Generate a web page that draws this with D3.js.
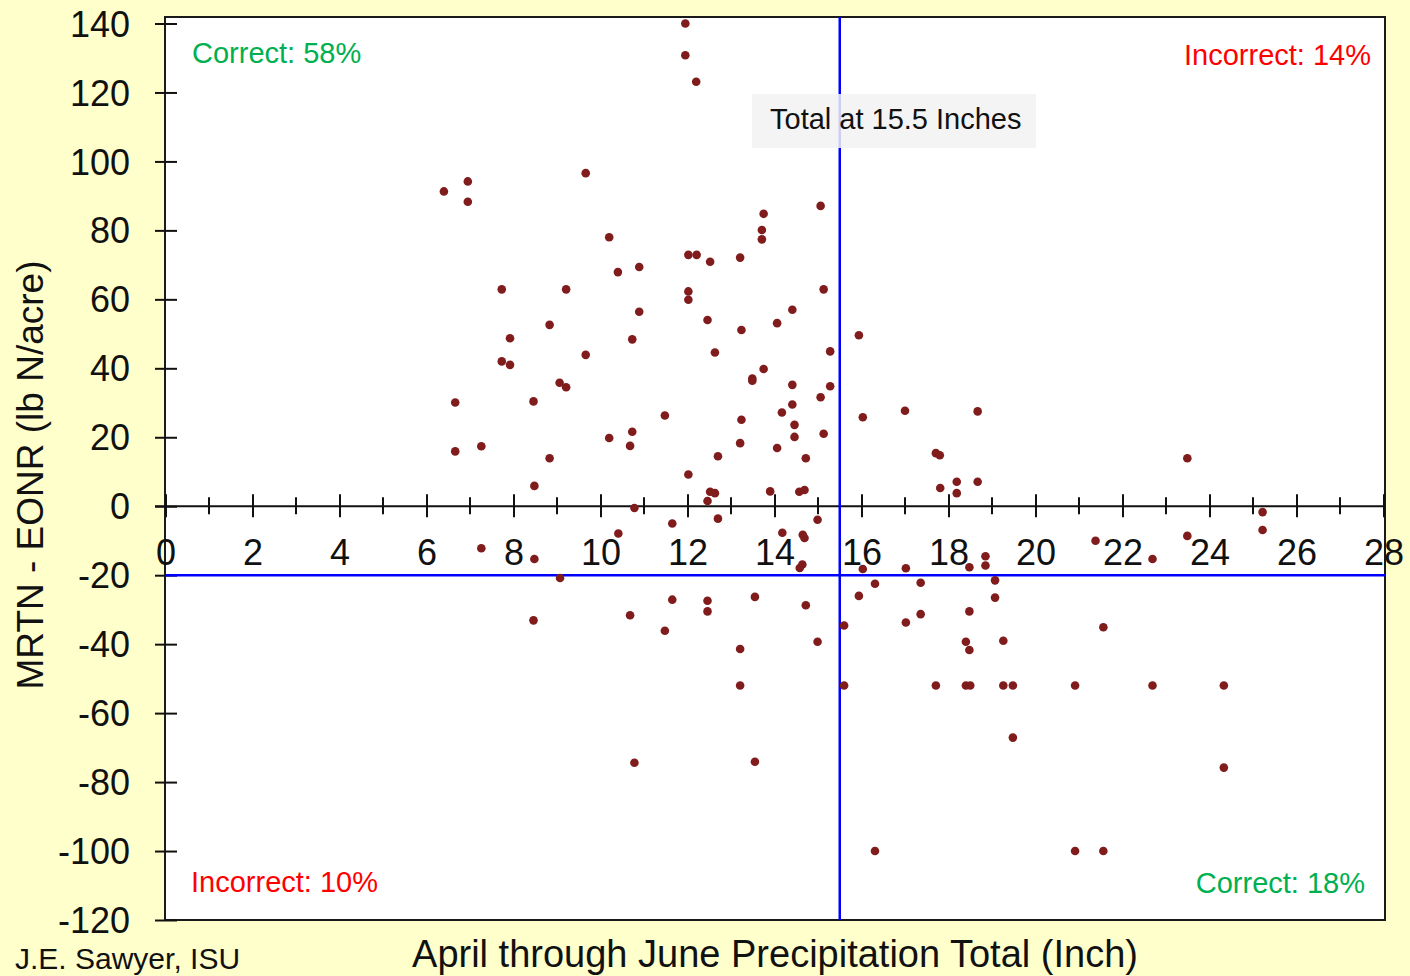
<!doctype html>
<html lang="en">
<head>
<meta charset="UTF-8">
<title>MRTN - EONR vs precipitation</title>
<style>
    html, body { margin: 0; padding: 0; background: #ffffcc; }
    svg { display: block; font-family: "Liberation Sans", Arial, sans-serif; }
</style>
</head>
<body>
<svg width="1410" height="976"></svg>

<script src="https://d3js.org/d3.v7.min.js"></script>
<script>
    // April-June precipitation (inch) for each site-year
    const precip = [
        6.40, 6.95, 6.95, 7.73, 9.21, 8.83, 7.92, 7.73, 7.92, 9.06,
        9.21, 6.66, 8.46, 6.66, 7.26, 8.83, 8.48, 9.66, 9.66, 11.95,
        11.95, 12.20, 10.20, 10.40, 10.89, 10.89, 10.73, 12.02, 12.21, 12.52,
        13.21, 12.02, 12.02, 12.46, 12.63, 13.24, 13.75, 13.71, 13.71, 15.06,
        15.13, 14.41, 14.06, 15.28, 15.94, 13.49, 13.49, 13.75, 14.41, 15.28,
        15.06, 14.41, 14.17, 14.46, 14.46, 15.13, 11.48, 13.24, 13.21, 14.06,
        10.20, 10.73, 10.68, 12.70, 14.72, 16.03, 17.00, 18.67, 17.71, 17.80,
        17.81, 18.19, 18.19, 18.67, 12.02, 12.52, 12.63, 12.46, 13.90, 14.57,
        14.69, 23.49,
        10.78, 25.22, 25.22, 7.26, 8.48, 9.07, 8.46, 12.70, 14.99, 10.41,
        11.65, 14.18, 14.65, 14.69, 14.58, 14.64, 16.03, 17.02, 18.48, 18.85,
        18.85, 19.07, 19.07, 16.31, 17.36, 15.94, 11.65, 12.46, 12.46, 13.55,
        14.72, 10.68, 11.48, 15.60, 17.36, 17.02, 18.48, 14.99, 13.21, 18.40,
        18.48, 13.21, 15.60, 17.71, 18.40, 18.50, 10.78, 13.55, 16.31, 19.26,
        19.26, 19.48, 19.48, 21.56, 20.91, 22.69, 24.33, 24.33, 20.91, 21.56,
        21.38, 22.69, 23.49
    ];
    // MRTN minus EONR (lb N/acre), same order as precip
    const diffN = [
        91.3, 94.2, 88.3, 62.9, 62.9, 52.6, 48.7, 42.0, 41.0, 35.8,
        34.5, 30.1, 30.4, 15.9, 17.4, 13.9, 5.9, 96.6, 43.9, 140.0,
        130.8, 123.1, 78.0, 67.9, 69.4, 56.4, 48.4, 72.9, 72.9, 70.9,
        72.1, 62.3, 59.9, 54.0, 44.6, 51.1, 84.8, 80.1, 77.4, 87.1,
        62.9, 57.0, 53.1, 44.9, 49.6, 37.0, 36.4, 39.8, 35.2, 34.8,
        31.6, 29.5, 27.2, 23.6, 20.1, 21.0, 26.3, 25.1, 18.3, 16.9,
        19.8, 21.6, 17.5, 14.5, 13.9, 25.8, 27.7, 27.5, 15.4, 14.8,
        5.3, 7.1, 3.8, 7.1, 9.2, 4.2, 3.8, 1.5, 4.3, 4.2,
        4.7, 13.9,
        -0.5, -1.7, -6.9, -12.2, -15.3, -20.8, -33.1, -3.6, -3.9, -7.9,
        -5.0, -7.7, -8.3, -9.2, -17.9, -16.9, -18.2, -18.0, -17.7, -14.5,
        -17.2, -21.5, -26.5, -22.5, -22.2, -26.0, -27.1, -27.4, -30.5, -26.3,
        -28.7, -31.6, -36.1, -34.6, -31.3, -33.7, -30.5, -39.3, -41.4, -39.3,
        -41.7, -52, -52, -52, -52, -52, -74.4, -74.1, -100, -39.0,
        -52, -52, -67.1, -35.1, -52, -52, -52, -75.8, -100, -100,
        -10.0, -15.3, -8.6
    ];

    const xTicks = d3.range(0, 29, 2);
    const xMinor = d3.range(1, 28, 2);
    const yTicks = d3.range(-120, 141, 20);

    const cutX = 15.5;   // precipitation threshold
    const cutY = -20;    // N difference threshold

    const quadrants = [
        { text: 'Correct: 58%', color: '#00b050', x: 192, y: 63, anchor: 'start' },
        { text: 'Incorrect: 14%', color: '#ff0000', x: 1371, y: 65, anchor: 'end' },
        { text: 'Incorrect: 10%', color: '#ff0000', x: 191, y: 892, anchor: 'start' },
        { text: 'Correct: 18%', color: '#00b050', x: 1365, y: 893, anchor: 'end' }
    ];

    const svg = d3.select('svg');
    const plotL = 165, plotR = 1385, plotT = 17, plotB = 920;

    const x = d3.scaleLinear().domain([0, 28]).range([165.5, 1383.5]);
    const y = d3.scaleLinear().domain([-120, 140]).range([920, 23.5]);

    svg.append('rect')
        .attr('width', 1410).attr('height', 976)
        .attr('fill', '#ffffcc');

    svg.append('rect')
        .attr('x', plotL).attr('y', plotT)
        .attr('width', plotR - plotL).attr('height', plotB - plotT)
        .attr('fill', '#ffffff')
        .attr('stroke', '#1a1a1a')
        .attr('stroke-width', 2);

    // y axis: ticks cross the frame line
    const yAxis = svg.append('g')
        .attr('transform', `translate(${plotL},0)`)
        .call(d3.axisLeft(y).tickValues(yTicks).tickSize(10).tickPadding(0).tickFormat(d3.format('d')));
    yAxis.select('.domain').remove();
    yAxis.selectAll('.tick line')
        .attr('x1', 12).attr('x2', -10)
        .attr('stroke', '#111').attr('stroke-width', 2);
    yAxis.selectAll('.tick text')
        .attr('x', -35)
        .attr('dy', '0.35em')
        .attr('font-size', 36)
        .attr('fill', '#111')
        .attr('text-anchor', 'end')
        .text(d => d < 0 ? '-' + Math.abs(d) : d);

    // x axis along y = 0
    const xAxis = svg.append('g')
        .attr('transform', `translate(0,${y(0)})`)
        .call(d3.axisBottom(x).tickValues(xTicks).tickSize(11).tickFormat(d3.format('d')));
    xAxis.select('.domain').remove();
    xAxis.selectAll('.tick line')
        .attr('y1', -12).attr('y2', 11)
        .attr('stroke', '#111').attr('stroke-width', 2);
    xAxis.selectAll('.tick text')
        .attr('y', 59)
        .attr('dy', 0)
        .attr('font-size', 36)
        .attr('fill', '#111');

    xAxis.selectAll('line.minor')
        .data(xMinor)
        .enter().append('line')
        .attr('class', 'minor')
        .attr('x1', d => x(d)).attr('x2', d => x(d))
        .attr('y1', -9).attr('y2', 8)
        .attr('stroke', '#111').attr('stroke-width', 2);

    xAxis.append('line')
        .attr('x1', 155).attr('x2', plotR)
        .attr('stroke', '#111').attr('stroke-width', 2);

    // threshold lines
    svg.append('line')
        .attr('x1', x(cutX)).attr('x2', x(cutX))
        .attr('y1', plotT).attr('y2', plotB)
        .attr('stroke', '#0000ff').attr('stroke-width', 2.5);
    svg.append('line')
        .attr('x1', plotL).attr('x2', plotR)
        .attr('y1', y(cutY)).attr('y2', y(cutY))
        .attr('stroke', '#0000ff').attr('stroke-width', 2.5);

    // points
    svg.append('g')
        .selectAll('circle')
        .data(precip.map((p, i) => ({ p, d: diffN[i] })))
        .enter().append('circle')
        .attr('cx', d => x(d.p))
        .attr('cy', d => y(d.d))
        .attr('r', 4.3)
        .attr('fill', '#801c1c');

    // threshold note
    svg.append('rect')
        .attr('x', 752).attr('y', 94)
        .attr('width', 284).attr('height', 54)
        .attr('fill', '#f2f2f2')
        .attr('fill-opacity', 0.85);
    svg.append('text')
        .attr('x', 770).attr('y', 129)
        .attr('font-size', 29)
        .attr('fill', '#111')
        .text('Total at 15.5 Inches');

    svg.append('g')
        .selectAll('text')
        .data(quadrants)
        .enter().append('text')
        .attr('x', d => d.x).attr('y', d => d.y)
        .attr('text-anchor', d => d.anchor)
        .attr('font-size', 29)
        .attr('fill', d => d.color)
        .text(d => d.text);

    // axis titles
    svg.append('text')
        .attr('transform', 'translate(43,475) rotate(-90)')
        .attr('text-anchor', 'middle')
        .attr('font-size', 37)
        .attr('fill', '#111')
        .text('MRTN - EONR (lb N/acre)');

    svg.append('text')
        .attr('x', 775).attr('y', 967)
        .attr('text-anchor', 'middle')
        .attr('font-size', 38)
        .attr('fill', '#111')
        .text('April through June Precipitation Total (Inch)');

    svg.append('text')
        .attr('x', 15).attr('y', 969)
        .attr('font-size', 30)
        .attr('fill', '#111')
        .text('J.E. Sawyer, ISU');
</script>
</body>
</html>
